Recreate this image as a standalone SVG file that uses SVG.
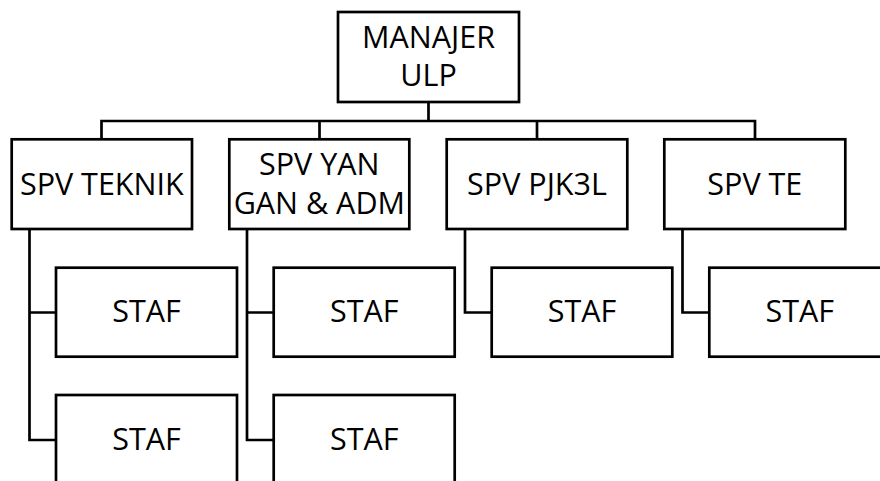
<svg xmlns="http://www.w3.org/2000/svg" width="880" height="481" viewBox="0 0 880 481">
<style>
.box{fill:#fff;stroke:#000;stroke-width:2.7}
.lbl{font-family:"Open Sans","Noto Sans",sans-serif;font-size:30.5px;fill:#000;text-anchor:middle}
.con{fill:none;stroke:#000;stroke-width:2.7}
</style>
<rect width="880" height="481" fill="#fff"/>
<g id="connectors" class="con">
<path d="M428.5,101.5 V121 M101.5,139.5 V121 H755 V139.5 M319.5,121 V139.5 M537,121 V139.5"/>
<path d="M29.5,229 V440 H56 M29.5,312.5 H56"/>
<path d="M247,229 V440 H273.7 M247,312.5 H273.7"/>
<path d="M465,229 V312.5 H491.7"/>
<path d="M682.5,229 V312.5 H709.3"/>
</g>
<g id="manajer"><rect class="box" x="338" y="12" width="181" height="90"/><text class="lbl" x="428.5" y="47.8">MANAJER</text><text class="lbl" x="428.5" y="86.3">ULP</text></g>
<g id="spv-teknik"><rect class="box" x="11.7" y="139.3" width="180.3" height="89.7"/><text class="lbl" x="101.8" y="195.3">SPV TEKNIK</text></g>
<g id="spv-yan"><rect class="box" x="229.3" y="139.3" width="180" height="89.7"/><text class="lbl" x="319.3" y="175.3">SPV YAN</text><text class="lbl" x="319.3" y="213.6">GAN &amp; ADM</text></g>
<g id="spv-pjk3l"><rect class="box" x="446.7" y="139.3" width="180.6" height="89.7"/><text class="lbl" x="537" y="194.6">SPV PJK3L</text></g>
<g id="spv-te"><rect class="box" x="664.3" y="139.3" width="181" height="89.7"/><text class="lbl" x="754.8" y="194.6">SPV TE</text></g>
<g id="staf-1"><rect class="box" x="56" y="267.7" width="181" height="89"/><text class="lbl" x="146.5" y="322">STAF</text></g>
<g id="staf-2"><rect class="box" x="56" y="395" width="181" height="95"/><text class="lbl" x="146.5" y="449.6">STAF</text></g>
<g id="staf-3"><rect class="box" x="273.7" y="267.7" width="181" height="89"/><text class="lbl" x="364.2" y="322">STAF</text></g>
<g id="staf-4"><rect class="box" x="273.7" y="395" width="181" height="95"/><text class="lbl" x="364.2" y="449.6">STAF</text></g>
<g id="staf-5"><rect class="box" x="491.7" y="267.7" width="180.6" height="89"/><text class="lbl" x="582" y="322">STAF</text></g>
<g id="staf-6"><rect class="box" x="709.3" y="267.7" width="181" height="89"/><text class="lbl" x="799.8" y="322">STAF</text></g>
</svg>
